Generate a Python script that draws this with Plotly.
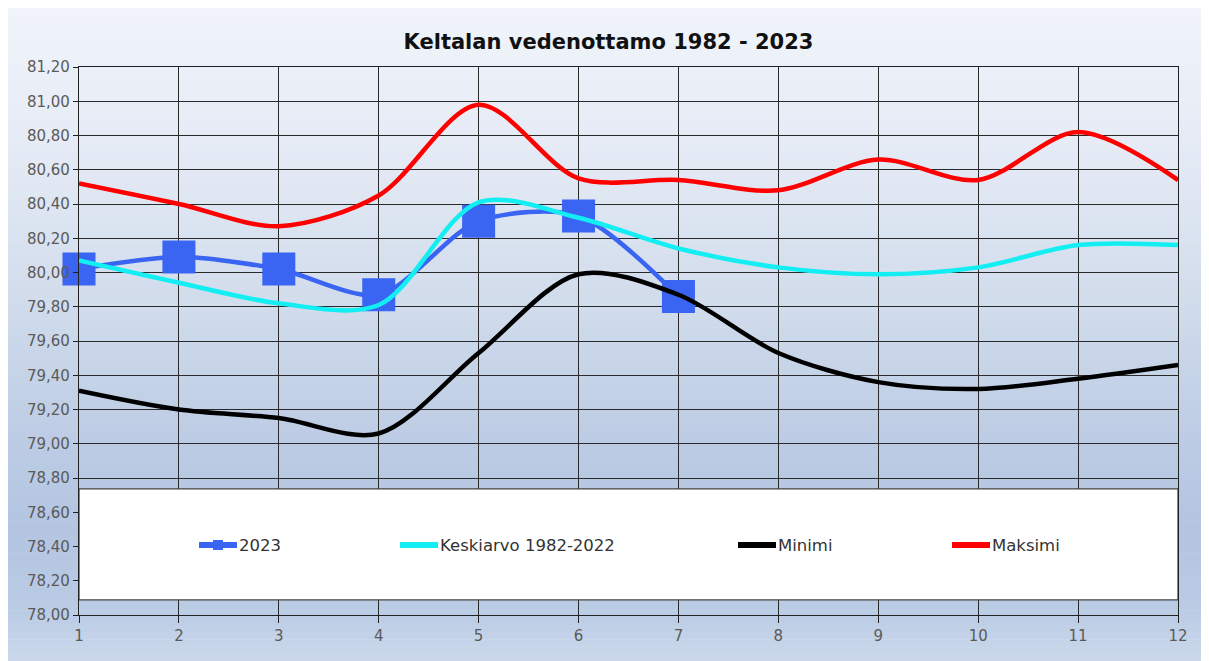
import plotly.graph_objects as go

months = [1, 2, 3, 4, 5, 6, 7, 8, 9, 10, 11, 12]
y2023 = [80.02, 80.09, 80.02, 79.87, 80.30, 80.33, 79.86]
keskiarvo = [80.07, 79.94, 79.82, 79.81, 80.41, 80.32, 80.14, 80.03, 79.99, 80.03, 80.16, 80.16]
minimi = [79.31, 79.20, 79.15, 79.06, 79.53, 79.99, 79.87, 79.53, 79.36, 79.32, 79.38, 79.46]
maksimi = [80.52, 80.40, 80.27, 80.45, 80.98, 80.55, 80.54, 80.48, 80.66, 80.54, 80.82, 80.54]
y_ticks = [78.0, 78.2, 78.4, 78.6, 78.8, 79.0, 79.2, 79.4, 79.6, 79.8, 80.0, 80.2, 80.4, 80.6, 80.8, 81.0, 81.2]

series_names = ["2023", "Keskiarvo 1982-2022", "Minimi", "Maksimi"]
series_colors = ["#3a64f2", "#12eef2", "#000000", "#ff0000"]

OFF = 8  # page body margin
W, H = 1209 - OFF, 661 - OFF
# plot area in screenshot pixels: left 79, right 1178, top 67, bottom 615
L, T = 79 - OFF, 67 - OFF
R = W - (1178 - OFF)
B = H - (615 - OFF)
PW, PH = W - L - R, H - T - B

def px(x):  # screenshot pixel -> paper
    return (x - OFF - L) / PW

def py(y):
    return (H - B - (y - OFF)) / PH

fig = go.Figure()

fig.add_trace(go.Scatter(x=months[:len(y2023)], y=y2023, mode="lines+markers", name=series_names[0],
                         line=dict(color=series_colors[0], width=4.5, shape="spline", smoothing=0.8),
                         marker=dict(symbol="square", size=33, color=series_colors[0]),
                         cliponaxis=False))
fig.add_trace(go.Scatter(x=months, y=keskiarvo, mode="lines", name=series_names[1],
                         line=dict(color=series_colors[1], width=4.5, shape="spline", smoothing=0.9)))
fig.add_trace(go.Scatter(x=months, y=minimi, mode="lines", name=series_names[2],
                         line=dict(color=series_colors[2], width=4.5, shape="spline", smoothing=0.9)))
fig.add_trace(go.Scatter(x=months, y=maksimi, mode="lines", name=series_names[3],
                         line=dict(color=series_colors[3], width=4.5, shape="spline", smoothing=0.9)))

shapes = []
# background gradient bands (screenshot pixel rows)
stops = [(0, (241, 244, 250)), (150, (229, 235, 245)), (300, (209, 220, 236)),
         (450, (187, 203, 228)), (530, (179, 197, 225)), (610, (186, 203, 228)), (661, (204, 217, 235))]
def col_at(yy):
    for i in range(len(stops) - 1):
        y0, c0 = stops[i]
        y1, c1 = stops[i + 1]
        if y0 <= yy <= y1:
            t = (yy - y0) / (y1 - y0)
            return tuple(int(round(c0[k] + (c1[k] - c0[k]) * t)) for k in range(3))
    return stops[-1][1]

n = 90
top, bot = OFF, 661
for i in range(n):
    ya = top + (bot - top) * i / n
    yb = top + (bot - top) * (i + 1) / n
    c = col_at((ya + yb) / 2)
    shapes.append(dict(type="rect", xref="paper", yref="paper", layer="below",
                       x0=px(OFF), x1=px(1204), y0=py(yb + 0.6), y1=py(ya),
                       fillcolor="rgb(%d,%d,%d)" % c, line=dict(width=0)))

# legend box
shapes.append(dict(type="rect", xref="x", yref="y", layer="between",
                   x0=1, x1=12, y0=78.088, y1=78.736,
                   fillcolor="white", line=dict(color="#444", width=1.3)))

# manual legend samples
leg_y = 545
leg_x = [(199, 237), (400, 438), (738, 776), (952, 990)]
annotations = []
for i, (a, b) in enumerate(leg_x):
    shapes.append(dict(type="line", xref="paper", yref="paper", layer="above",
                       x0=px(a), x1=px(b), y0=py(leg_y), y1=py(leg_y),
                       line=dict(color=series_colors[i], width=6)))
    annotations.append(dict(xref="paper", yref="paper", x=px(b), y=py(leg_y), text=series_names[i],
                            showarrow=False, xanchor="left", yanchor="middle",
                            font=dict(family="DejaVu Sans", size=16.5, color="#333333")))
shapes.append(dict(type="rect", xref="paper", yref="paper", layer="above",
                   x0=px(213), x1=px(223), y0=py(550), y1=py(540),
                   fillcolor=series_colors[0], line=dict(width=0)))

fig.update_layout(
    width=W, height=H,
    margin=dict(l=L, r=R, t=T, b=B, autoexpand=False),
    paper_bgcolor="white",
    plot_bgcolor="rgba(0,0,0,0)",
    separators=", ",
    showlegend=False,
    title=dict(text="<b>Keltalan vedenottamo 1982 - 2023</b>", x=0.5, xref="container", xanchor="center",
               y=1 - (42 - OFF) / H, yref="container", yanchor="middle",
               font=dict(family="DejaVu Sans", size=21, color="#111111")),
    shapes=shapes,
    annotations=annotations,
    font=dict(family="DejaVu Sans"),
)
fig.update_xaxes(range=[1, 12], tickvals=months, ticktext=[str(m) for m in months],
                 showgrid=True, gridcolor="#2a2a2a", gridwidth=1,
                 showline=True, linecolor="#222", linewidth=1.3, mirror=True,
                 ticks="outside", ticklen=7, tickcolor="#222", tickwidth=1.3,
                 tickfont=dict(size=15, color="#5a5a5a"), zeroline=False, fixedrange=True)
fig.update_yaxes(range=[78, 81.2], tickvals=y_ticks, tickformat=".2f",
                 showgrid=True, gridcolor="#2a2a2a", gridwidth=1,
                 showline=True, linecolor="#222", linewidth=1.3, mirror=True,
                 ticks="outside", ticklen=5, tickcolor="#222", tickwidth=1.3,
                 tickfont=dict(size=15, color="#5a5a5a"), zeroline=False, fixedrange=True)

fig.write_html("out.html")
